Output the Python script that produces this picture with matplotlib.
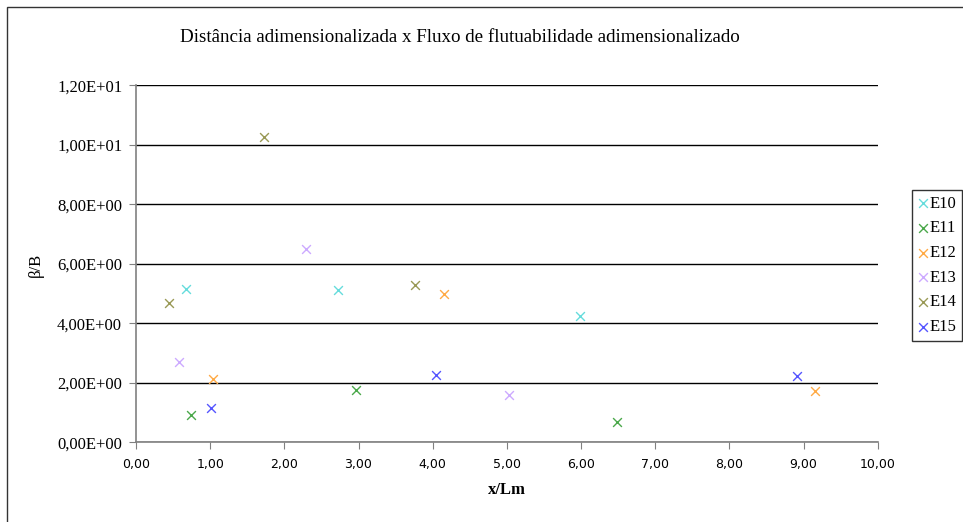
import matplotlib
matplotlib.use("Agg")
import matplotlib.pyplot as plt
from matplotlib.ticker import FuncFormatter
from matplotlib.patches import Rectangle

# data
series = ["E10", "E11", "E12", "E13", "E14", "E15"]
x_vals = [
    [0.68, 2.72, 5.99],
    [0.74, 2.96, 6.49],
    [1.04, 4.15, 9.15],
    [0.58, 2.29, 5.03],
    [0.44, 1.72, 3.76],
    [1.01, 4.04, 8.91],
]
y_vals = [
    [5.15, 5.12, 4.26],
    [0.93, 1.76, 0.67],
    [2.13, 4.97, 1.72],
    [2.71, 6.49, 1.59],
    [4.69, 10.25, 5.30],
    [1.16, 2.26, 2.23],
]
colors = ["#66dcdc", "#4aa84a", "#ffaa44", "#ccaaff", "#999955", "#5555ff"]

plt.rcParams['font.family'] = ['Liberation Serif', 'DejaVu Serif']

W, H = 963, 522
fig = plt.figure(figsize=(W / 100, H / 100), dpi=100)
ax = fig.add_axes([136 / W, 1 - 442.3 / H, (877.7 - 136) / W, (442.3 - 85.3) / H])

for name, xs, ys, c in zip(series, x_vals, y_vals, colors):
    ax.scatter(xs, ys, marker="x", s=40, color=c, linewidths=1.0, label=name, zorder=3)

ax.set_xlim(0, 10)
ax.set_ylim(0, 12)
ax.set_xticks([i for i in range(11)])
ax.set_yticks([i * 2 for i in range(7)])
ax.xaxis.set_major_formatter(FuncFormatter(lambda v, p: f"{v:.2f}".replace(".", ",")))

def sci(v, p):
    m, e = f"{v:.2E}".split("E")
    return m.replace(".", ",") + "E" + (e[0] + e[1:].zfill(2))

ax.yaxis.set_major_formatter(FuncFormatter(sci))
ax.grid(axis="y", color="black", linewidth=1.0, zorder=1)
for s in ["top", "right"]:
    ax.spines[s].set_visible(False)
for s in ["left", "bottom"]:
    ax.spines[s].set_color("#808080")
    ax.spines[s].set_linewidth(1.2)
ax.tick_params(axis="both", colors="#808080", length=5, labelcolor="black")
ax.tick_params(axis="y", labelsize=12, pad=5)
ax.tick_params(axis="x", labelsize=9, pad=6)
for lbl in ax.get_xticklabels():
    lbl.set_family("DejaVu Sans")

fig.text(460 / W, 1 - 37 / H, "Distância adimensionalizada x Fluxo de flutuabilidade adimensionalizado",
         ha="center", va="center", fontsize=13.7)
fig.text(36 / W, 1 - 265 / H, "β/B", ha="center", va="center", rotation=90, fontsize=12)
fig.text(507 / W, 1 - 490 / H, "x/Lm", ha="center", va="center", fontsize=12, fontweight="bold")

leg = fig.legend(loc="upper left", bbox_to_anchor=(912 / W, 1 - 190 / H), frameon=True,
                 fancybox=False, edgecolor="black", fontsize=12, handlelength=0.6,
                 handletextpad=0.1, borderpad=0.35, labelspacing=0.52, borderaxespad=0)
leg.get_frame().set_linewidth(1.0)

fig.patches.append(Rectangle((7 / W, -0.05), 1.1, 1 - 7 / H + 0.05, transform=fig.transFigure,
                             fill=False, edgecolor="#333333", linewidth=1.0))

fig.savefig("out.png", dpi=100)
